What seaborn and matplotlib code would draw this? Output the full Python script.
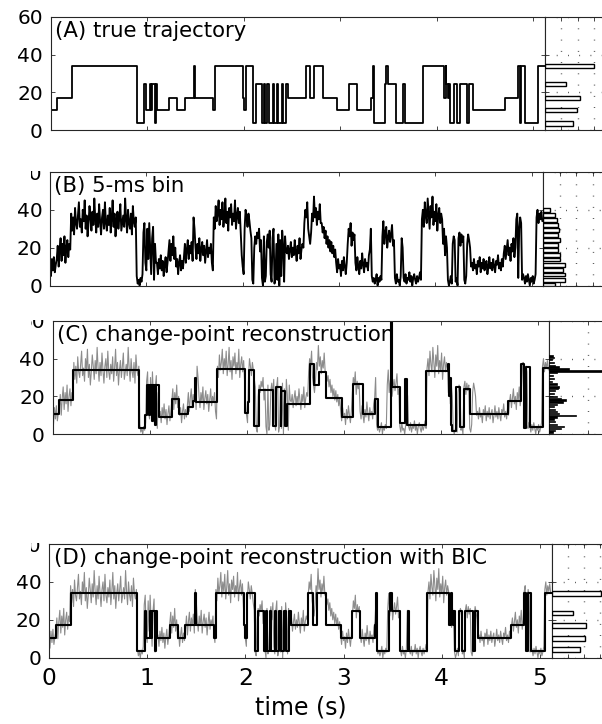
import numpy as np
import matplotlib
matplotlib.use("Agg")
import matplotlib.pyplot as plt
import seaborn as sns
from matplotlib.transforms import Bbox, offset_copy

# ---------------- data ----------------
# true trajectory (panel A) : change times (s) and levels
traj_times = [0.00, 0.07, 0.22, 0.90, 0.973, 0.99, 1.03, 1.04, 1.05, 1.08, 1.09, 1.105,
              1.23, 1.31, 1.39, 1.487, 1.50, 1.68, 1.70, 1.99, 2.00, 2.02, 2.10, 2.125,
              2.19, 2.21, 2.22, 2.246, 2.266, 2.30, 2.315, 2.343, 2.36, 2.394, 2.41, 2.44,
              2.463, 2.643, 2.687, 2.725, 2.82, 2.97, 3.09, 3.17, 3.32, 3.335, 3.345, 3.464,
              3.475, 3.49, 3.578, 3.653, 3.671, 3.854, 4.078, 4.09, 4.10, 4.115, 4.125, 4.137,
              4.178, 4.206, 4.24, 4.316, 4.337, 4.372, 4.706, 4.837, 4.86, 4.875, 4.913, 5.05]
traj_levels = [10.5, 17, 34, 3.5, 24.5, 10.5, 24.5, 10.5, 24.5, 3.5, 24.5, 10.5,
               17, 10.5, 17, 34, 17, 10.5, 34, 17, 10.5, 34, 3.5, 24.5,
               3.5, 24.5, 3.5, 24.5, 3.5, 24.5, 3.5, 24.5, 3.5, 24.5, 3.5, 24.5,
               17, 34, 17, 34, 17, 10.5, 24.5, 10.5, 17, 34, 3.5, 24.5,
               34, 24.5, 3.5, 24.5, 3.5, 34, 17, 34, 24.5, 17, 24.5, 3.5,
               24.5, 3.5, 24.5, 3.5, 24.5, 10.5, 17, 34, 3.5, 34, 3.5, 34]

# 5-ms binned intensity trace (read at 10-ms spacing)
trace_dt = 0.01
trace_values = [
    12, 5, 14, 8, 15, 7, 11,
    14, 21, 10, 19, 25, 13, 22, 16, 26, 12, 20, 24, 15, 22, 19,
    38, 29, 36, 27, 41, 33, 30, 37, 44, 31,
    35, 28, 40, 34, 45, 30, 37, 26, 33, 42,
    36, 29, 39, 32, 46, 35, 28, 38, 31, 43,
    34, 27, 36, 40, 30, 44, 33, 29, 37, 32,
    41, 28, 35, 45, 31, 38, 26, 34, 39, 30,
    36, 43, 29, 33, 37, 31, 46, 35, 28, 40,
    33, 30, 38, 27, 42, 34, 31, 36,
    5, 1, 3, 0, 4, 2, 6,
    28, 33, 12, 8, 30, 14, 33, 20, 6, 25, 31, 3, 22, 12,
    12, 6, 14, 9, 16, 8, 13, 5, 11, 15, 7, 12,
    18, 24, 13, 22, 16, 26, 14, 20,
    10, 14, 6, 12, 16, 8, 13, 9,
    15, 22, 12, 19, 24, 14, 21, 17, 23, 13,
    36, 30,
    20, 14, 22, 17, 25, 13, 19, 23, 16, 21, 12, 18, 24, 15, 20, 17, 22,
    12, 8,
    36, 30, 42, 34, 38, 45, 32, 40, 35, 44,
    31, 37, 46, 33, 39, 29, 41, 36, 43, 32,
    38, 34, 45, 30, 37, 41, 33, 39, 28,
    16, 10, 6,
    30, 40, 36, 31, 38, 34, 29, 25,
    3, 1, 20, 26, 22, 28, 25, 30, 18, 24,
    4, 0, 26, 2, 5, 23, 27, 20, 29, 6,
    2, 25, 30, 1, 4, 22, 3, 27, 0, 24,
    5, 29, 21, 2, 26, 18,
    17, 21, 14, 19, 23, 15, 20, 16, 24, 18, 13, 21, 17, 25, 14, 19, 22, 20,
    33, 40, 36, 44, 30,
    26, 22, 28,
    38, 34, 47, 36, 41, 32, 39, 35, 43, 33,
    33, 28, 31, 25, 29, 22, 26, 20, 24, 18, 23, 17, 21, 15, 19,
    12, 7, 14, 9, 11, 5, 13, 8, 15, 10, 6, 12,
    22, 30, 26, 33, 21, 28, 24, 27,
    12, 8, 15, 10, 6, 13, 9, 17, 11, 7, 14, 10, 12, 8, 16,
    19, 30, 5, 2, 4, 1, 3, 6, 0, 4, 2, 5, 3,
    26, 34, 22, 28, 31, 20, 25, 29, 23, 27, 32, 21, 24,
    4, 1, 6, 2, 3, 0, 5, 25, 20, 4,
    2, 6, 1, 4, 3, 7, 2, 5, 0, 4,
    6, 3, 1, 5, 2, 4, 7, 3,
    35, 40, 31, 44, 37, 33, 46, 38, 30, 42,
    36, 47, 32, 39, 34, 43, 29, 37, 41, 33,
    38, 35,
    22, 30, 16, 26, 20, 3, 0, 2, 5, 1,
    22, 26, 24, 2, 4, 0, 25, 28, 21, 27,
    23, 26, 3, 1, 5, 22, 27, 24, 20, 10,
    12, 8, 14, 9, 11, 6, 13, 10, 15, 7,
    12, 9, 14, 8, 11, 13, 6, 10, 15, 9,
    12, 8, 14, 10, 7, 13, 11, 16, 9, 12,
    8, 14, 10,
    17, 21, 14, 19, 24, 16, 20, 13, 22, 18, 25, 15, 20,
    35, 38, 4, 30, 36, 33, 3, 6,
    4, 1, 5, 2, 6, 3, 0, 4, 2, 5, 1, 3, 6,
    36, 40, 33, 38, 35, 39, 34,
]

# change-point reconstruction (panel C)
recon_c_times = [0.00, 0.07, 0.21, 0.89, 0.95, 0.97, 0.99, 1.00, 1.03, 1.04, 1.06, 1.07,
                 1.10, 1.23, 1.30, 1.40, 1.45, 1.47, 1.48, 1.70, 1.98, 2.01, 2.03, 2.08,
                 2.13, 2.27, 2.30, 2.35, 2.36, 2.40, 2.42, 2.65, 2.70, 2.75, 2.82, 2.98,
                 3.10, 3.20, 3.32, 3.35, 3.485, 3.495, 3.58, 3.63, 3.65, 3.85, 4.08, 4.09,
                 4.10, 4.11, 4.12, 4.16, 4.20, 4.24, 4.30, 4.69, 4.83, 4.86, 4.88, 4.92, 5.05]
recon_c_levels = [10.8, 18, 34, 3, 10, 26, 10, 26, 7, 26, 5, 26,
                  9, 18.5, 10.4, 14.5, 17.6, 30, 17, 34.3, 11, 17, 34, 4,
                  23.5, 4, 25, 4, 23, 4, 16, 37, 26, 33, 19, 9,
                  26.5, 10.8, 18.5, 3.6, 70, 24.7, 6, 29, 4.7, 33.5, 37, 20,
                  30, 5, 1.5, 24.7, 3.6, 24, 10.4, 17.6, 37, 3.2, 35.5, 3.8, 35]

# change-point reconstruction with BIC (panel D)
recon_d_times = list(traj_times)
recon_d_levels = list(traj_levels)

# histograms (right-hand side panels)
hist_a_levels = [34, 24.5, 17, 10.5, 3.5]
hist_a_counts = [3.02, 1.28, 2.16, 1.96, 1.69]
hist_b_levels = [0.5, 3.1, 5.8, 8.4, 11.0, 13.7, 16.3, 18.9, 21.6, 24.2, 26.8, 29.5,
                 32.1, 34.7, 37.4, 39.9]
hist_b_counts = [0.73, 1.35, 1.31, 1.2, 1.35, 1.04, 1.0, 0.9, 0.9, 1.0, 0.875, 0.94,
                 0.9, 0.83, 0.69, 0.42]
hist_c_levels = [41.5, 40.5, 39.5, 38, 36.5, 35.5, 34.5, 33.5, 32.5, 31, 29.5, 28,
                 26.5, 25, 24, 23, 21.5, 20, 19, 18, 17, 15.5, 14.5, 13, 12, 11, 10,
                 9, 8, 6.5, 5, 4, 3, 2, 1]
hist_c_counts = [0.1, 0.12, 0.08, 0.12, 0.15, 0.25, 0.5, 1.6, 0.2, 0.1, 0.12, 0.08,
                 0.2, 0.25, 0.22, 0.15, 0.12, 0.2, 0.3, 0.42, 0.35, 0.2, 0.12, 0.15,
                 0.2, 0.25, 0.68, 0.2, 0.12, 0.15, 0.2, 0.38, 0.3, 0.15, 0.1]
hist_d_levels = [34, 23.7, 17, 10.2, 4.3]
hist_d_counts = [3.06, 1.31, 2.12, 2.04, 1.77]

panel_titles = ["(A) true trajectory", "(B) 5-ms bin", "(C) change-point reconstruction",
                "(D) change-point reconstruction with BIC"]
x_ticks = [0, 1, 2, 3, 4, 5]
y_ticks = [0, 20, 40, 60]
x_label = "time (s)"
t_end = 5.12

# ---------------- style ----------------
sns.set_style("ticks")
plt.rcParams["font.family"] = ["DejaVu Sans"]
plt.rcParams["axes.linewidth"] = 0.8
plt.rcParams["text.color"] = "black"
plt.rcParams["xtick.labelcolor"] = "black"
plt.rcParams["ytick.labelcolor"] = "black"
plt.rcParams["axes.labelcolor"] = "black"

W, H = 602, 724
fig = plt.figure(figsize=(W / 100, H / 100), dpi=100)
fig.patch.set_facecolor("white")


def px_axes(x0, x1, ytop, ybot):
    return fig.add_axes([x0 / W, 1 - ybot / H, (x1 - x0) / W, (ybot - ytop) / H])


def style_main(ax, show_x, clipped_60, ytop):
    ax.set_xlim(0, t_end)
    ax.set_ylim(0, 60)
    ax.set_xticks(x_ticks)
    ax.set_yticks(y_ticks)
    ax.set_xlabel("")
    ax.set_ylabel("")
    ax.tick_params(direction="in", length=3, width=0.6, color="0.15",
                   labelcolor="black", top=True, right=True)
    ax.tick_params(axis="y", labelsize=14.5, pad=5.5)
    if show_x:
        ax.tick_params(axis="x", labelsize=16.8, pad=7)
    else:
        ax.tick_params(axis="x", labelbottom=False)
    for s in ax.spines.values():
        s.set_color("0.15")
        s.set_linewidth(0.8)
    if clipped_60:
        ax.set_yticklabels(["0", "20", "40", ""])
        tr = offset_copy(ax.transAxes, fig=fig, x=-7.6, y=0, units="dots")
        t = ax.text(0, 1, "60", transform=tr, ha="right", va="center_baseline",
                    fontsize=14.5, color="black", clip_on=True)
        t.set_clip_box(Bbox([[31, 0], [52, H - ytop + 1]]))
    else:
        ax.set_yticklabels(["0", "20", "40", "60"])


def style_hist(ax, xmax, xt):
    ax.set_ylim(0, 60)
    ax.set_xlim(0, xmax)
    ax.set_yticks(y_ticks)
    ax.set_xticks(xt)
    ax.set_xlabel("")
    ax.set_ylabel("")
    ax.tick_params(direction="in", length=3, width=0.6, color="0.15",
                   labelleft=False, labelbottom=False, top=True)
    ax.grid(True, linestyle=(0, (0.6, 7.5)), linewidth=1.0, color="0.25")
    for s in ax.spines.values():
        s.set_color("0.15")
        s.set_linewidth(0.8)


def add_title(ax, text):
    tr = offset_copy(ax.transAxes, fig=fig, x=4.5, y=-14, units="dots")
    ax.text(0, 1, text, transform=tr, ha="left", va="center", fontsize=15.3,
            color="black", zorder=5)


trace_t = np.arange(len(trace_values)) * trace_dt


def steps(times, levels):
    return list(times) + [t_end], list(levels) + [levels[-1]]


# ---------------- panel A ----------------
axA = px_axes(50.5, 545, 17, 130)
xs, ys = steps(traj_times, traj_levels)
sns.lineplot(x=xs, y=ys, ax=axA, color="black", linewidth=1.3,
             drawstyle="steps-post", estimator=None, sort=False)
style_main(axA, False, False, 17)
add_title(axA, panel_titles[0])
hA = px_axes(545, 625, 17, 130)
hA.barh(hist_a_levels, hist_a_counts, height=2.4, color="white", edgecolor="black",
        linewidth=1.0, zorder=3)
style_hist(hA, 80 / 16.3, [1, 2, 3, 4])

# ---------------- panel B ----------------
axB = px_axes(50, 543.3, 172, 285.5)
sns.lineplot(x=trace_t, y=trace_values, ax=axB, color="black", linewidth=1.35,
             estimator=None, sort=False)
style_main(axB, False, True, 172)
add_title(axB, panel_titles[1])
hB = px_axes(543.3, 623.3, 172, 285.5)
hB.barh(hist_b_levels, hist_b_counts, height=2.0, color="white", edgecolor="black",
        linewidth=1.0, zorder=3)
style_hist(hB, 80 / 16.4, [1, 2, 3, 4])

# ---------------- panel C ----------------
axC = px_axes(52.5, 549.3, 321, 434)
sns.lineplot(x=trace_t, y=trace_values, ax=axC, color="0.55", linewidth=0.8,
             estimator=None, sort=False)
xs, ys = steps(recon_c_times, recon_c_levels)
sns.lineplot(x=xs, y=ys, ax=axC, color="black", linewidth=1.5,
             drawstyle="steps-post", estimator=None, sort=False)
style_main(axC, False, True, 321)
add_title(axC, panel_titles[2])
hC = px_axes(549.3, 629.3, 321, 434)
hC.barh(hist_c_levels, hist_c_counts, height=0.7, color="black", edgecolor="black",
        linewidth=0.5, zorder=3)
style_hist(hC, 80 / 39.0, [1])

# ---------------- panel D ----------------
axD = px_axes(49, 551.7, 544, 657.7)
sns.lineplot(x=trace_t, y=trace_values, ax=axD, color="0.55", linewidth=0.8,
             estimator=None, sort=False)
xs, ys = steps(recon_d_times, recon_d_levels)
sns.lineplot(x=xs, y=ys, ax=axD, color="black", linewidth=1.5,
             drawstyle="steps-post", estimator=None, sort=False)
style_main(axD, True, True, 544)
add_title(axD, panel_titles[3])
axD.set_xlabel(x_label, fontsize=17, labelpad=4, color="black")
hD = px_axes(551.7, 631.7, 544, 657.7)
hD.barh(hist_d_levels, hist_d_counts, height=2.4, color="white", edgecolor="black",
        linewidth=1.0, zorder=3)
style_hist(hD, 80 / 16.1, [1, 2, 3, 4])

fig.savefig("out.png", dpi=100)
